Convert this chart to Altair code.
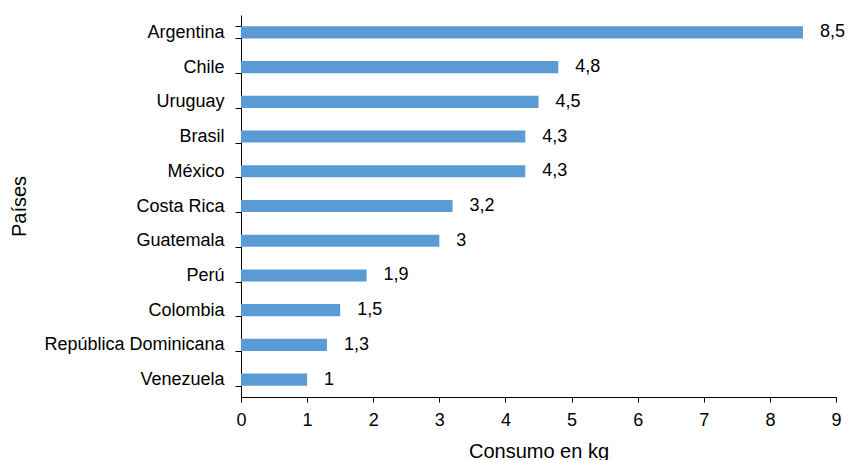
import altair as alt
import pandas as pd

paises = ["Argentina", "Chile", "Uruguay", "Brasil", "México", "Costa Rica",
          "Guatemala", "Perú", "Colombia", "República Dominicana", "Venezuela"]
consumo = [8.5, 4.8, 4.5, 4.3, 4.3, 3.2, 3.0, 1.9, 1.5, 1.3, 1.0]
etiquetas = ["8,5", "4,8", "4,5", "4,3", "4,3", "3,2", "3", "1,9", "1,5", "1,3", "1"]
ticks_x = list(range(0, 10))

df = pd.DataFrame({"pais": paises, "consumo": consumo, "etiqueta": etiquetas})

FONT = "Liberation Sans"

y_enc = alt.Y("pais:N", sort=paises,
              scale=alt.Scale(paddingInner=0.65, paddingOuter=0.325),
              axis=alt.Axis(title="Países", tickBand="extent", grid=False,
                            domainColor="#000000", tickColor="#000000", tickSize=6,
                            labelFontSize=18, labelFont=FONT, labelColor="#000000",
                            labelPadding=11, labelLimit=400,
                            titleFontSize=20, titleFont=FONT, titleFontWeight="normal",
                            titleColor="#000000", titleX=-216, titleY=191,
                            titleBaseline="alphabetic", titleAngle=-90))

x_enc = alt.X("consumo:Q", scale=alt.Scale(domain=[0, 9], nice=False),
              axis=alt.Axis(title="Consumo en kg", values=ticks_x, format="d", grid=False,
                            domainColor="#000000", tickColor="#000000", tickSize=5,
                            labelFontSize=18, labelFont=FONT, labelColor="#000000",
                            labelBaseline="alphabetic", labelPadding=23, labelFlush=False,
                            titleFontSize=20, titleFont=FONT, titleFontWeight="normal",
                            titleColor="#000000", titleY=60, titleBaseline="alphabetic"))

bars = alt.Chart(df).mark_bar(color="#5B9BD5").encode(x=x_enc, y=y_enc)

labels = alt.Chart(df).mark_text(align="left", baseline="middle", dx=17,
                                 fontSize=18, font=FONT, color="#000000").encode(
    x="consumo:Q", y=alt.Y("pais:N", sort=paises), text="etiqueta:N")

chart = (bars + labels).properties(
    width=595, height=382,
    autosize=alt.AutoSizeParams(type="none"),
    padding={"left": 241, "top": 15, "right": 12, "bottom": 63},
    background="#ffffff",
).configure_view(stroke=None)

chart.save("out.html", embed_options={"renderer": "svg", "actions": False})
